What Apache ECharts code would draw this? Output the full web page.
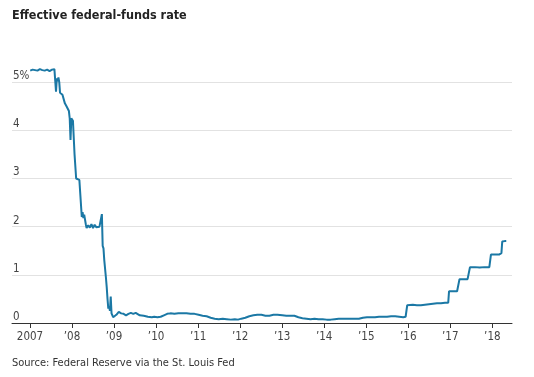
<!DOCTYPE html>
<html lang="en">
  <head>
    <meta charset="UTF-8" />
    <title>Effective federal-funds rate</title>
    <style>
      html, body { margin: 0; padding: 0; background: #fff; }
      #main { width: 534px; height: 377px; }
    </style>
  </head>
  <body>
    <div id="main"></div>
    <script src="https://cdn.jsdelivr.net/npm/echarts@6/dist/echarts.min.js"></script>
    <script>
      // effective fed funds rate (roughly weekly/monthly)
      var dates = [
        "2007-01-03", "2007-01-24", "2007-02-14", "2007-03-07", "2007-03-28", "2007-04-18",
        "2007-05-09", "2007-05-30", "2007-06-20", "2007-07-11", "2007-08-01", "2007-08-08",
        "2007-08-15", "2007-08-22", "2007-08-29", "2007-09-05", "2007-09-12", "2007-09-19",
        "2007-09-26", "2007-10-10", "2007-10-24", "2007-10-31", "2007-11-14", "2007-11-28",
        "2007-12-05", "2007-12-12", "2007-12-19", "2007-12-26", "2008-01-09", "2008-01-16",
        "2008-01-23", "2008-02-06", "2008-02-20", "2008-03-05", "2008-03-19", "2008-03-26",
        "2008-04-02", "2008-04-09", "2008-04-16", "2008-04-30", "2008-05-07", "2008-05-21",
        "2008-06-04", "2008-06-18", "2008-07-02", "2008-07-16", "2008-07-30", "2008-08-13",
        "2008-08-27", "2008-09-10", "2008-09-17", "2008-09-24", "2008-10-01", "2008-10-08",
        "2008-10-22", "2008-10-29", "2008-11-05", "2008-11-12", "2008-11-19", "2008-11-26",
        "2008-12-03", "2008-12-10", "2008-12-24", "2009-01-07", "2009-01-21", "2009-02-11",
        "2009-03-04", "2009-03-25", "2009-04-15", "2009-05-06", "2009-05-27", "2009-06-17",
        "2009-07-08", "2009-07-22", "2009-08-12", "2009-09-16", "2009-10-21", "2009-11-25",
        "2009-12-16", "2010-01-13", "2010-02-10", "2010-03-10", "2010-04-07", "2010-05-05",
        "2010-06-09", "2010-07-14", "2010-08-18", "2010-09-22", "2010-10-27", "2010-12-01",
        "2011-01-05", "2011-02-09", "2011-03-16", "2011-04-20", "2011-05-25", "2011-06-29",
        "2011-08-03", "2011-09-07", "2011-10-12", "2011-11-16", "2011-12-14", "2012-01-11",
        "2012-02-15", "2012-03-21", "2012-04-25", "2012-05-30", "2012-07-04", "2012-08-08",
        "2012-09-12", "2012-10-17", "2012-11-21", "2013-01-02", "2013-02-06", "2013-03-13",
        "2013-04-17", "2013-05-22", "2013-06-26", "2013-07-31", "2013-09-04", "2013-10-09",
        "2013-11-13", "2013-12-18", "2014-01-22", "2014-02-26", "2014-04-02", "2014-05-07",
        "2014-06-11", "2014-07-16", "2014-08-20", "2014-09-24", "2014-10-29", "2014-12-03",
        "2015-01-07", "2015-02-11", "2015-03-18", "2015-04-22", "2015-05-27", "2015-07-01",
        "2015-08-05", "2015-09-09", "2015-10-14", "2015-11-18", "2015-12-09", "2015-12-16",
        "2015-12-23", "2016-01-06", "2016-02-10", "2016-03-16", "2016-04-20", "2016-05-25",
        "2016-06-29", "2016-08-03", "2016-09-07", "2016-10-12", "2016-11-16", "2016-12-14",
        "2016-12-21", "2017-01-25", "2017-03-01", "2017-03-15", "2017-03-22", "2017-04-26",
        "2017-05-31", "2017-06-14", "2017-06-21", "2017-08-02", "2017-09-13", "2017-10-25",
        "2017-12-06", "2017-12-13", "2017-12-20", "2018-01-24", "2018-02-28", "2018-03-21",
        "2018-03-28", "2018-04-18", "2018-05-02"
      ];
      var rates = [
        5.24, 5.26, 5.25, 5.24, 5.27, 5.25,
        5.24, 5.26, 5.23, 5.26, 5.27, 5.26,
        4.80, 5.08, 5.02, 5.10, 5.00, 4.78,
        4.76, 4.74, 4.72, 4.56, 4.50, 4.52,
        4.40, 4.25, 3.80, 4.25, 4.20, 4.18,
        3.50, 3.00, 3.00, 2.97, 2.95, 2.20,
        2.30, 2.18, 2.25, 2.05, 1.97, 2.03,
        1.98, 2.05, 1.97, 2.04, 1.99, 2.02,
        2.00, 1.98, 2.26, 1.60, 1.55, 1.30,
        0.95, 0.75, 0.50, 0.30, 0.35, 0.25,
        0.55, 0.20, 0.12, 0.13, 0.17, 0.23,
        0.20, 0.19, 0.16, 0.19, 0.21, 0.19,
        0.21, 0.17, 0.16, 0.15, 0.13, 0.12,
        0.13, 0.12, 0.13, 0.16, 0.19, 0.20,
        0.19, 0.20, 0.20, 0.20, 0.19, 0.19,
        0.17, 0.15, 0.14, 0.11, 0.09, 0.08,
        0.09, 0.08, 0.07, 0.08, 0.07, 0.09,
        0.11, 0.14, 0.16, 0.17, 0.17, 0.15,
        0.15, 0.17, 0.17, 0.16, 0.15, 0.15,
        0.15, 0.12, 0.10, 0.09, 0.08, 0.09,
        0.08, 0.08, 0.07, 0.07, 0.08, 0.09,
        0.09, 0.09, 0.09, 0.09, 0.09, 0.11,
        0.12, 0.12, 0.12, 0.13, 0.13, 0.13,
        0.14, 0.14, 0.13, 0.12, 0.13, 0.14,
        0.37, 0.36, 0.38, 0.37, 0.37, 0.38,
        0.39, 0.40, 0.41, 0.41, 0.42, 0.42,
        0.66, 0.66, 0.66, 0.67, 0.91, 0.91,
        0.91, 0.92, 1.16, 1.16, 1.15, 1.16,
        1.16, 1.17, 1.42, 1.42, 1.42, 1.45,
        1.69, 1.70, 1.70
      ];
      var yearTicks = [2007, 2008, 2009, 2010, 2011, 2012, 2013, 2014, 2015, 2016, 2017, 2018];

      var FONT = "'Liberation Sans Narrow', 'DejaVu Sans Condensed', 'Liberation Sans', sans-serif";

      function toYear(s) {
        var p = s.split("-");
        var y = +p[0];
        var start = Date.UTC(y, 0, 1);
        var end = Date.UTC(y + 1, 0, 1);
        var t = Date.UTC(y, +p[1] - 1, +p[2]);
        return y + (t - start) / (end - start);
      }

      var seriesData = dates.map(function (d, i) {
        return [toYear(d), rates[i]];
      });

      var chart = echarts.init(document.getElementById("main"));

      var option = {
        animation: false,
        backgroundColor: "#fff",
        textStyle: { fontFamily: FONT },
        title: {
          text: "Effective federal-funds rate",
          left: 12,
          top: 9,
          padding: 0,
          textStyle: { fontFamily: FONT, fontSize: 12.5, fontWeight: "bold", color: "#222" }
        },
        graphic: [
          {
            type: "text",
            left: 12,
            top: 358,
            style: {
              text: "Source: Federal Reserve via the St. Louis Fed",
              font: "11px " + FONT,
              fill: "#333"
            }
          }
        ],
        grid: { left: 12, right: 22, top: 34, bottom: 54 },
        xAxis: {
          type: "value",
          min: 2006.572,
          max: 2018.468,
          axisLine: { lineStyle: { color: "#333", width: 1 } },
          axisTick: {
            customValues: yearTicks,
            length: 5,
            lineStyle: { color: "#333" }
          },
          axisLabel: {
            customValues: yearTicks,
            margin: 8,
            fontSize: 11.5,
            color: "#444",
            fontFamily: FONT,
            formatter: function (v) {
              v = Math.round(v);
              return v === 2007 ? "2007" : "\u2019" + String(v).slice(2);
            }
          },
          splitLine: { show: false }
        },
        yAxis: {
          type: "value",
          min: 0,
          max: 6,
          interval: 1,
          axisLine: { show: false },
          axisTick: { show: false },
          axisLabel: {
            inside: true,
            margin: 1,
            verticalAlign: "bottom",
            showMaxLabel: false,
            fontSize: 11.5,
            color: "#444",
            fontFamily: FONT,
            formatter: function (v) {
              return v === 5 ? "5%" : String(v);
            }
          },
          splitLine: {
            showMinLine: false,
            showMaxLine: false,
            lineStyle: { color: "#e2e2e2", width: 1 }
          }
        },
        series: [
          {
            type: "line",
            data: seriesData,
            showSymbol: false,
            lineStyle: { color: "#1b78a5", width: 2 },
            itemStyle: { color: "#1b78a5" }
          }
        ]
      };

      chart.setOption(option);
    </script>
  </body>
</html>
